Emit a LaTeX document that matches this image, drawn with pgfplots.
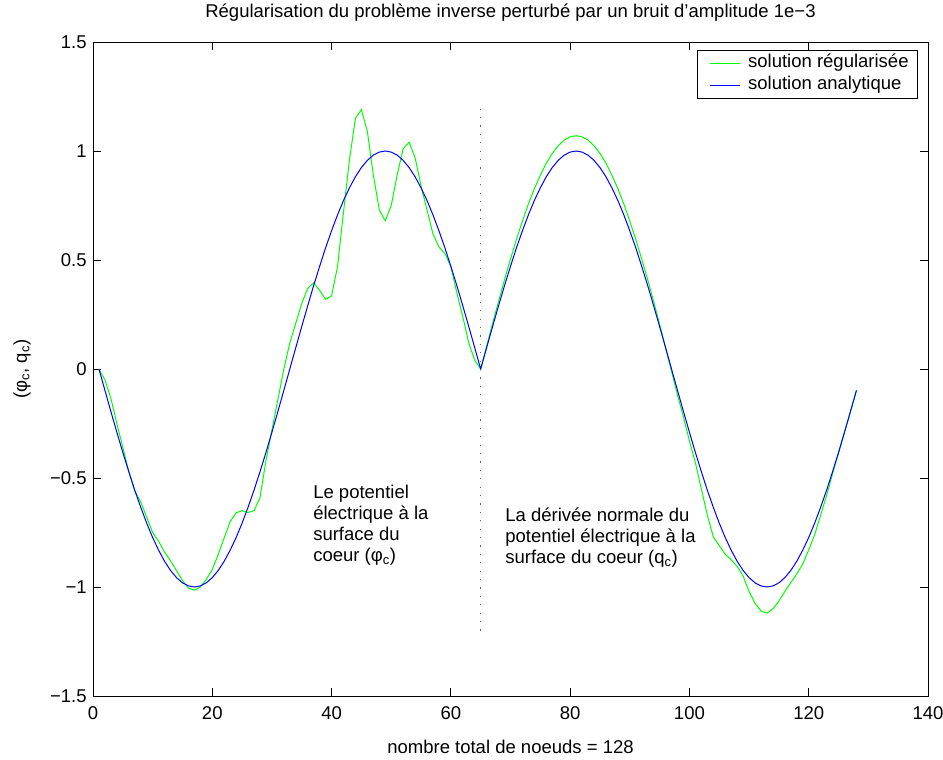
\documentclass[border=0pt]{standalone}
\usepackage{fontspec}
\setmainfont{Liberation Sans}
\usepackage{pgfplots}
\pgfplotsset{compat=1.18}
\definecolor{mgreen}{RGB}{0,255,0}
\definecolor{mblue}{RGB}{0,0,255}
\newcommand{\myfont}{\fontsize{18.5}{21}\selectfont}

\begin{document}
\myfont
\begin{tikzpicture}
\useasboundingbox (0,0) rectangle (943pt,760pt);
\begin{axis}[
  at={(93pt,64pt)}, anchor=south west,
  scale only axis, width=835pt, height=654pt,
  xmin=0, xmax=140, ymin=-1.5, ymax=1.5,
  xtick={0,20,...,140},
  ytick={-1.5,-1,-0.5,0,0.5,1,1.5},
  yticklabels={−1.5,−1,−0.5,0,0.5,1,1.5},
  tick align=inside, major tick length=8pt,
  axis line style={line width=0.8pt},
  every tick/.style={black, line width=0.8pt},
  /pgf/number format/assume math mode=true,
  tick label style={font=\myfont},
  xticklabel style={yshift=-4pt},
  title={Régularisation du problème inverse perturbé par un bruit d’amplitude 1e−3},
  title style={font=\myfont, at={(axis description cs:0.5,1)}, anchor=base, yshift=18pt},
  xlabel={nombre total de noeuds = 128},
  xlabel style={font=\myfont, at={(axis description cs:0.5,0)}, anchor=base, yshift=-58pt},
  ylabel={(φ\textsubscript{c}, q\textsubscript{c})},
  ylabel style={font=\myfont, at={(axis description cs:-0.085,0.5)}, anchor=center},
  legend style={font=\myfont, at={(rel axis cs:1,1)}, anchor=north east,
    xshift=-10pt, yshift=-8pt, draw=black, line width=0.8pt,
    inner xsep=7pt, inner ysep=2pt, row sep=0pt,
    nodes={inner xsep=2pt, inner ysep=3pt, text height=12.5pt, text depth=3.5pt}},
  legend cell align=left,
]
\addplot[draw=mgreen, line width=1pt,
  legend image code/.code={\path (0pt,0pt) (41pt,0pt);
    \draw[draw=mgreen, line width=1.2pt] (5pt,0pt) -- (35pt,0pt);}] coordinates {
(1,0) (2,-0.05) (3,-0.135) (4,-0.25) (5,-0.36) (6,-0.47) (7,-0.56) (8,-0.61)
(9,-0.68) (10,-0.75) (11,-0.79) (12,-0.84) (13,-0.88) (14,-0.925) (15,-0.97) (16,-1.005)
(17,-1.015) (18,-1.0) (19,-0.965) (20,-0.92) (21,-0.85) (22,-0.775) (23,-0.70) (24,-0.66)
(25,-0.65) (26,-0.658) (27,-0.65) (28,-0.59) (29,-0.42) (30,-0.28) (31,-0.14) (32,0.0)
(33,0.12) (34,0.21) (35,0.30) (36,0.37) (37,0.395) (38,0.36) (39,0.32) (40,0.335)
(41,0.47) (42,0.72) (43,0.96) (44,1.15) (45,1.19) (46,1.09) (47,0.89) (48,0.73)
(49,0.68) (50,0.75) (51,0.89) (52,1.01) (53,1.04) (54,0.97) (55,0.84) (56,0.73)
(57,0.62) (58,0.56) (59,0.53) (60,0.47) (61,0.35) (62,0.24) (63,0.12) (64,0.04)
(65,0) (66,0.105) (67,0.209) (68,0.310) (69,0.410) (70,0.504) (71,0.595) (72,0.678)
(73,0.757) (74,0.827) (75,0.889) (76,0.944) (77,0.989) (78,1.024) (79,1.050) (80,1.065)
(81,1.07) (82,1.065) (83,1.050) (84,1.024) (85,0.989) (86,0.944) (87,0.889) (88,0.827)
(89,0.757) (90,0.678) (91,0.595) (92,0.504) (93,0.410) (94,0.310) (95,0.205) (96,0.097)
(97,-0.01) (98,-0.12) (99,-0.22) (100,-0.33) (101,-0.43) (102,-0.55) (103,-0.67) (104,-0.77)
(105,-0.81) (106,-0.85) (107,-0.875) (108,-0.905) (109,-0.95) (110,-1.02) (111,-1.075) (112,-1.11)
(113,-1.12) (114,-1.10) (115,-1.065) (116,-1.02) (117,-0.98) (118,-0.94) (119,-0.895) (120,-0.83)
(121,-0.76) (122,-0.67) (123,-0.58) (124,-0.48) (125,-0.385) (126,-0.29) (127,-0.195) (128,-0.10)
};
\addlegendentry{solution régularisée}
\addplot[draw=mblue, line width=1pt,
  legend image code/.code={\path (0pt,0pt) (41pt,0pt);
    \draw[draw=mblue, line width=1.2pt] (5pt,0pt) -- (35pt,0pt);}] coordinates {
(1,0) (2,-0.098) (3,-0.195) (4,-0.290) (5,-0.383) (6,-0.471) (7,-0.556) (8,-0.634)
(9,-0.707) (10,-0.773) (11,-0.831) (12,-0.882) (13,-0.924) (14,-0.957) (15,-0.981) (16,-0.995)
(17,-1) (18,-0.995) (19,-0.981) (20,-0.957) (21,-0.924) (22,-0.882) (23,-0.831) (24,-0.773)
(25,-0.707) (26,-0.634) (27,-0.556) (28,-0.471) (29,-0.383) (30,-0.290) (31,-0.195) (32,-0.098)
(33,0) (34,0.098) (35,0.195) (36,0.290) (37,0.383) (38,0.471) (39,0.556) (40,0.634)
(41,0.707) (42,0.773) (43,0.831) (44,0.882) (45,0.924) (46,0.957) (47,0.981) (48,0.995)
(49,1) (50,0.995) (51,0.981) (52,0.957) (53,0.924) (54,0.882) (55,0.831) (56,0.773)
(57,0.707) (58,0.634) (59,0.556) (60,0.471) (61,0.383) (62,0.290) (63,0.195) (64,0.098)
(65,0) (66,0.098) (67,0.195) (68,0.290) (69,0.383) (70,0.471) (71,0.556) (72,0.634)
(73,0.707) (74,0.773) (75,0.831) (76,0.882) (77,0.924) (78,0.957) (79,0.981) (80,0.995)
(81,1) (82,0.995) (83,0.981) (84,0.957) (85,0.924) (86,0.882) (87,0.831) (88,0.773)
(89,0.707) (90,0.634) (91,0.556) (92,0.471) (93,0.383) (94,0.290) (95,0.195) (96,0.098)
(97,0) (98,-0.098) (99,-0.195) (100,-0.290) (101,-0.383) (102,-0.471) (103,-0.556) (104,-0.634)
(105,-0.707) (106,-0.773) (107,-0.831) (108,-0.882) (109,-0.924) (110,-0.957) (111,-0.981) (112,-0.995)
(113,-1) (114,-0.995) (115,-0.981) (116,-0.957) (117,-0.924) (118,-0.882) (119,-0.831) (120,-0.773)
(121,-0.707) (122,-0.634) (123,-0.556) (124,-0.471) (125,-0.383) (126,-0.290) (127,-0.195) (128,-0.098)
};
\addlegendentry{solution analytique}
% separation between the two unknowns
\addplot[draw=black!60, line width=0.8pt, dash pattern=on 1.2pt off 7.2pt, forget plot]
  coordinates {(65,-1.2) (65,1.2)};
\node[anchor=north west, align=left, inner sep=0pt, font=\myfont]
  at (axis cs:36.9,-0.532) {Le potentiel\\électrique à la\\surface du\\coeur (φ\textsubscript{c})};
\node[anchor=north west, align=left, inner sep=0pt, font=\myfont]
  at (axis cs:69.1,-0.638) {La dérivée normale du\\potentiel électrique à la\\surface du coeur (q\textsubscript{c})};
\end{axis}
\end{tikzpicture}
\end{document}
